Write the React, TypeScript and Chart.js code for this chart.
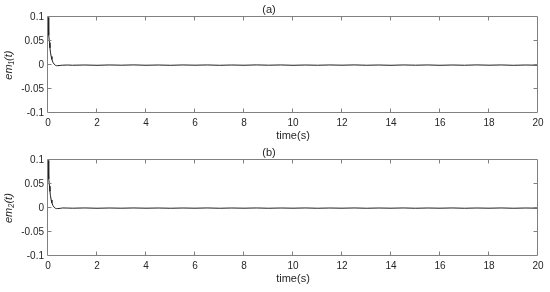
import React, { useEffect, useRef } from "react";
import { Chart, registerables } from "chart.js";

Chart.register(...registerables);

// ---- data ----
const timeS = [
  0, 0.02, 0.04, 0.06, 0.08, 0.1, 0.13, 0.16, 0.2, 0.25, 0.3, 0.35, 0.4, 0.5, 0.6, 0.8,
  1, 1.5, 2, 2.5, 3, 3.5, 4, 4.5, 5, 5.5, 6, 6.5, 7, 7.5, 8, 8.5, 9, 9.5, 10,
  10.5, 11, 11.5, 12, 12.5, 13, 13.5, 14, 14.5, 15, 15.5, 16, 16.5, 17, 17.5, 18, 18.5, 19, 19.5, 20,
];
const em1 = [
  0.1, 0.084, 0.062, 0.047, 0.036, 0.027, 0.018, 0.012, 0.006, 0.002, -0.0004, -0.0012, -0.0012, -0.0006, -0.0002, 0.0002,
  -0.0003, 0.0002, -0.0004, 0.0003, -0.0002, 0.0004, -0.0003, 0.0002, -0.0004, 0.0003, -0.0002, 0.0003, -0.0004, 0.0002,
  -0.0003, 0.0004, -0.0002, 0.0003, -0.0004, 0.0002, -0.0003, 0.0003, -0.0002, 0.0004, -0.0003, 0.0002, -0.0004, 0.0003,
  -0.0002, 0.0003, -0.0004, 0.0002, -0.0003, 0.0004, -0.0002, 0.0003, -0.0004, 0.0002, -0.0003,
];
const em2 = [
  0.1, 0.083, 0.061, 0.046, 0.035, 0.026, 0.017, 0.011, 0.0055, 0.0018, -0.0004, -0.001, -0.001, -0.0005, 0.0003, 0.0001,
  -0.0002, 0.0003, -0.0003, 0.0002, -0.0002, 0.0003, -0.0002, 0.0002, -0.0003, 0.0002, -0.0002, 0.0003, -0.0003, 0.0002,
  -0.0002, 0.0003, -0.0003, 0.0002, -0.0002, 0.0003, -0.0003, 0.0002, -0.0002, 0.0003, -0.0003, 0.0002, -0.0002, 0.0003,
  -0.0003, 0.0002, -0.0002, 0.0003, -0.0003, 0.0002, -0.0002, 0.0003, -0.0003, 0.0002, -0.0002,
];
const xTicks = [0, 2, 4, 6, 8, 10, 12, 14, 16, 18, 20];
const yTicks = [-0.1, -0.05, 0, 0.05, 0.1];
const yTickLabels = ["-0.1", "-0.05", "0", "0.05", "0.1"];
const panelTitles = ["(a)", "(b)"];
const yTitles = ["em\u2081(t)", "em\u2082(t)"];
const xTitle = "time(s)";

const FONT = "'Liberation Sans', Arial, Helvetica, sans-serif";
const TEXT = "#262626";
const AXIS = "#808080";

const boxTicks = {
  id: "boxTicks",
  afterDraw(chart: any) {
    const { ctx, chartArea: a, scales } = chart;
    const L = Math.round(a.left) - 0.5;
    const R = Math.round(a.right) - 0.5;
    const T = Math.round(a.top) - 0.5;
    const B = Math.round(a.bottom) - 0.5;
    const len = 4;
    ctx.save();
    ctx.strokeStyle = AXIS;
    ctx.lineWidth = 1;
    ctx.beginPath();
    ctx.rect(L, T, R - L, B - T);
    for (const v of xTicks) {
      const px = Math.round(scales.x.getPixelForValue(v)) - 0.5;
      if (px <= L + 1 || px >= R - 1) continue;
      ctx.moveTo(px, B);
      ctx.lineTo(px, B - len);
      ctx.moveTo(px, T);
      ctx.lineTo(px, T + len);
    }
    for (const v of yTicks) {
      const py = Math.round(scales.y.getPixelForValue(v)) - 0.5;
      if (py <= T + 1 || py >= B - 1) continue;
      ctx.moveTo(L, py);
      ctx.lineTo(L + len, py);
      ctx.moveTo(R, py);
      ctx.lineTo(R - len, py);
    }
    ctx.stroke();
    ctx.restore();
  },
};

function Panel({ idx, height, bottomPad }: { idx: number; height: number; bottomPad: number }) {
  const ref = useRef<HTMLCanvasElement>(null);
  useEffect(() => {
    const values = idx === 0 ? em1 : em2;
    const chart = new Chart(ref.current as HTMLCanvasElement, {
      type: "line",
      data: {
        datasets: [
          {
            data: timeS.map((t, i) => ({ x: t, y: values[i] })),
            borderColor: "#1f1f1f",
            borderWidth: 1,
            pointRadius: 0,
            tension: 0,
            fill: false,
          },
        ],
      },
      options: {
        responsive: false,
        animation: false,
        layout: { padding: { left: 0, right: 12, top: 0, bottom: bottomPad } },
        plugins: {
          legend: { display: false },
          tooltip: { enabled: false },
          title: {
            display: true,
            text: panelTitles[idx],
            color: TEXT,
            font: { family: FONT, size: 11, weight: "normal" },
            padding: { top: 3, bottom: 1 },
          },
        },
        scales: {
          x: {
            type: "linear",
            min: 0,
            max: 20,
            afterBuildTicks: (s: any) => {
              s.ticks = xTicks.map((v) => ({ value: v }));
            },
            afterFit: (s: any) => {
              s.height = 30;
            },
            grid: { display: false, drawTicks: false },
            border: { display: false },
            ticks: {
              autoSkip: false,
              maxRotation: 0,
              padding: 4,
              color: TEXT,
              font: { family: FONT, size: 10 },
              callback: (v: any) => String(v),
            },
            title: {
              display: true,
              text: xTitle,
              color: TEXT,
              font: { family: FONT, size: 11 },
              padding: { top: 0, bottom: 0 },
            },
          },
          y: {
            type: "linear",
            min: -0.1,
            max: 0.1,
            afterBuildTicks: (s: any) => {
              s.ticks = yTicks.map((v) => ({ value: v }));
            },
            afterFit: (s: any) => {
              s.width = 48;
            },
            grid: { display: false, drawTicks: false },
            border: { display: false },
            ticks: {
              padding: 4,
              color: TEXT,
              font: { family: FONT, size: 10 },
              callback: (v: any) => {
                const k = yTicks.findIndex((t) => Math.abs(t - Number(v)) < 1e-9);
                return k >= 0 ? yTickLabels[k] : "";
              },
            },
            title: {
              display: true,
              text: yTitles[idx],
              color: TEXT,
              font: { family: FONT, size: 11, style: "italic" },
              padding: { top: 2, bottom: 2 },
            },
          },
        },
      } as any,
      plugins: [boxTicks],
    });
    return () => chart.destroy();
  }, [idx]);
  return <canvas ref={ref} width={550} height={height} style={{ display: "block" }} />;
}

export default function App() {
  return (
    <div style={{ position: "absolute", left: 0, top: 0, width: 550, height: 292, background: "#fff" }}>
      <Panel idx={0} height={143} bottomPad={0} />
      <Panel idx={1} height={149} bottomPad={6} />
    </div>
  );
}
